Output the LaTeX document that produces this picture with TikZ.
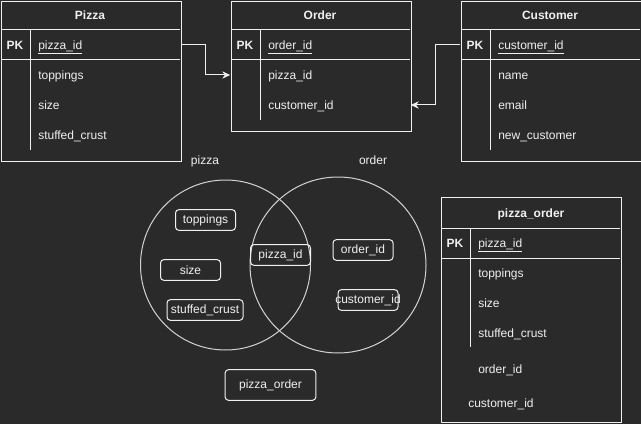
\documentclass[tikz,border=0pt]{standalone}
\usepackage{fontspec}
\setmainfont{Liberation Sans}
\usetikzlibrary{arrows.meta}
\definecolor{bg}{HTML}{2A2A2A}
\definecolor{fg}{HTML}{F0F0F0}
\begin{document}
\begin{tikzpicture}[x=0.75pt,y=-0.75pt,
  every node/.style={text=fg, font=\fontsize{9pt}{11pt}\selectfont},
  tbl/.style={draw=fg, line width=0.75pt, inner sep=0, anchor=north west, minimum width=135pt},
  ttl/.style={font=\fontsize{9pt}{11pt}\selectfont\bfseries, inner sep=0, anchor=base, yshift=-3.2pt},
  fld/.style={anchor=base west, inner sep=0, yshift=-3.2pt},
  row/.style={minimum width=135pt, minimum height=22.5pt, inner sep=0},
  sep/.style={draw=fg, line width=0.75pt},
  tag/.style={draw=fg, line width=0.75pt, rounded corners=2.5pt, minimum width=45pt, minimum height=15.5pt, inner sep=0},
  venn/.style={draw=fg!85!bg, line width=0.75pt, circle, inner sep=0},
  link/.style={draw=fg, line width=0.75pt, -{Stealth[length=6pt,width=5.5pt]}}
]
\fill[bg] (0,0) rectangle (641,424);
\useasboundingbox (0,0) rectangle (641,424);

% ---------- Pizza ----------
\node[tbl, minimum height=120pt] (pizza) at (1,1) {};
\node[ttl] (pizzat) at (90,15) {Pizza};
\draw[sep] (1,30) -- (180,30);
\draw[sep] (1,60) -- (180,60);
\draw[sep] (30,30) -- (30,150);
\node[row] (pizzaPK) at (90.5,45) {};
\node[ttl] (pizzapkl) at (15,45) {PK};
\node[fld] (pizzaf1) at (38,45) {\underline{pizza\_id}};
\node[fld] (pizzaf2) at (38,75) {toppings};
\node[fld] (pizzaf3) at (38,105) {size};
\node[fld] (pizzaf4) at (38,135) {stuffed\_crust};

% ---------- Order ----------
\node[tbl, minimum height=97.5pt] (order) at (231,1) {};
\node[ttl] (ordert) at (320,15) {Order};
\draw[sep] (231,30) -- (410,30);
\draw[sep] (231,60) -- (410,60);
\draw[sep] (260,30) -- (260,120);
\node[row] (orderP) at (320.5,75) {};
\node[row] (orderC) at (320.5,105) {};
\node[ttl] (orderpkl) at (245,45) {PK};
\node[fld] (orderf1) at (268,45) {\underline{order\_id}};
\node[fld] (orderf2) at (268,75) {pizza\_id};
\node[fld] (orderf3) at (268,105) {customer\_id};

% ---------- Customer ----------
\node[tbl, minimum height=120pt] (cust) at (461,1) {};
\node[ttl] (custt) at (550,15) {Customer};
\draw[sep] (461,30) -- (640,30);
\draw[sep] (461,60) -- (640,60);
\draw[sep] (490,30) -- (490,150);
\node[row] (custPK) at (550.5,45) {};
\node[ttl] (custpkl) at (475,45) {PK};
\node[fld] (custf1) at (498,45) {\underline{customer\_id}};
\node[fld] (custf2) at (498,75) {name};
\node[fld] (custf3) at (498,105) {email};
\node[fld] (custf4) at (498,135) {new\_customer};

% ---------- connectors ----------
\draw[link] (pizzaPK.east) -- ++(25,0) |- (orderP.west);
\draw[link] (custPK.west) -- ++(-25,0) |- (orderC.east);

% ---------- Venn ----------
\node[fld, anchor=base] (lblpizza) at (205,160) {pizza};
\node[fld, anchor=base] (lblorder) at (373,160) {order};
\node[venn, minimum size=127.5pt] (vpizza) at (225.5,265) {};
\node[venn, minimum size=132pt] (vorder) at (338,265) {};
\node[tag] (ttop) at (205.5,220) {toppings};
\node[tag] (tsize) at (190.5,270) {size};
\node[tag, minimum width=57pt] (tstuff) at (205,310) {stuffed\_crust};
\node[tag] (tpid) at (280.5,255) {pizza\_id};
\node[tag] (toid) at (363,250) {order\_id};
\node[tag, label={[inner sep=0, text=fg]center:customer\_id}] (tcid) at (368,300) {};
\node[tag, minimum width=68pt, minimum height=23pt] (tpo) at (270.5,385) {pizza\_order};

% ---------- pizza_order ----------
\node[tbl, minimum height=168.75pt] (po) at (441,197) {};
\node[ttl] (pot) at (531,213) {pizza\_order};
\draw[sep] (441,228) -- (620,228);
\draw[sep] (441,258) -- (620,258);
\draw[sep] (470,228) -- (470,347);
\node[ttl] (popkl) at (455,243) {PK};
\node[fld] (pof1) at (478,243) {\underline{pizza\_id}};
\node[fld] (pof2) at (478,273) {toppings};
\node[fld] (pof3) at (478,303) {size};
\node[fld] (pof4) at (478,333) {stuffed\_crust};
\node[fld] (pof5) at (478,369) {order\_id};
\node[fld] (pof6) at (468,403) {customer\_id};
\end{tikzpicture}
\end{document}
